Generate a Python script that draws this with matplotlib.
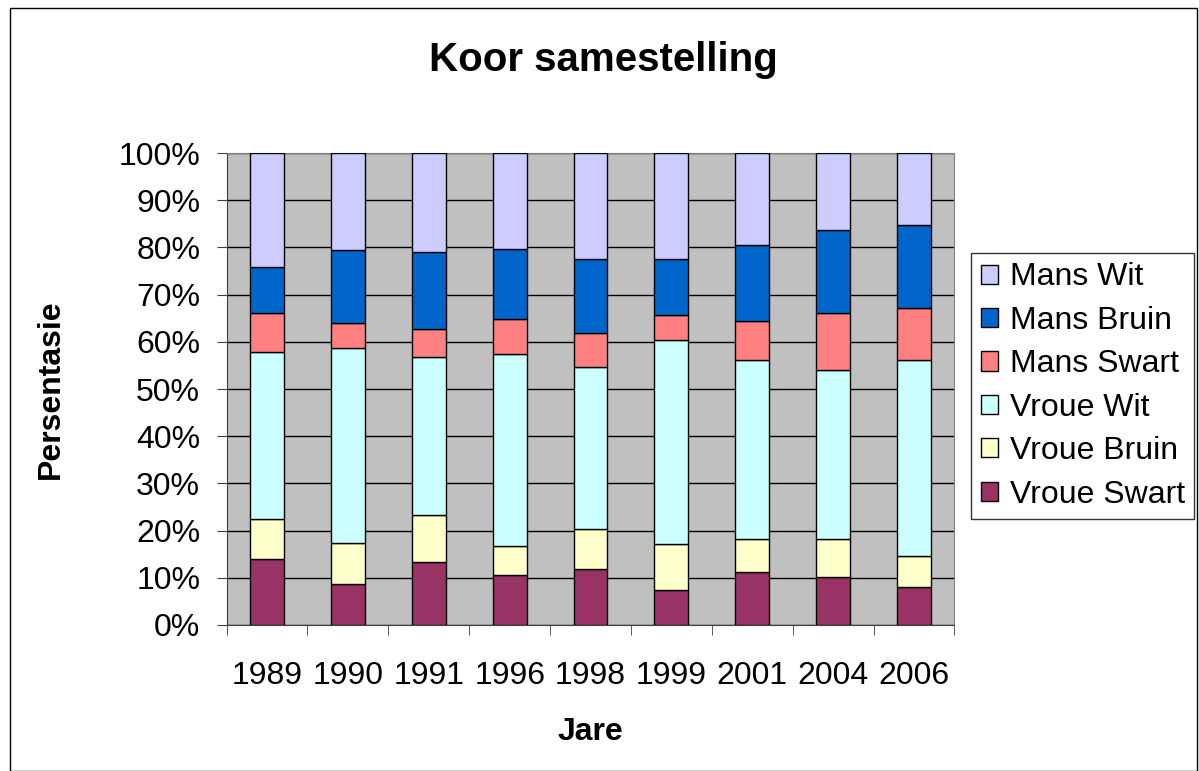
import numpy as np
import matplotlib.pyplot as plt
from matplotlib.patches import Rectangle
from matplotlib.ticker import FixedLocator, PercentFormatter

plt.rcParams['font.family'] = ['Liberation Sans', 'DejaVu Sans']

# Data (percentages)
years = ["1989", "1990", "1991", "1996", "1998", "1999", "2001", "2004", "2006"]
vroue_swart = [14.0, 8.7, 13.4, 10.6, 11.9, 7.4, 11.2, 10.2, 8.0]
vroue_bruin = [8.4, 8.7, 10.0, 6.2, 8.4, 9.7, 7.1, 8.1, 6.7]
vroue_wit = [35.4, 41.2, 33.4, 40.6, 34.3, 43.2, 37.8, 35.7, 41.4]
mans_swart = [8.3, 5.4, 5.9, 7.5, 7.2, 5.3, 8.3, 12.2, 11.0]
mans_bruin = [9.8, 15.4, 16.3, 14.7, 15.7, 11.9, 16.2, 17.5, 17.6]
mans_wit = [24.1, 20.6, 21.0, 20.4, 22.5, 22.5, 19.4, 16.3, 15.3]

series = [
    ("Vroue Swart", vroue_swart, "#993366"),
    ("Vroue Bruin", vroue_bruin, "#FFFFCC"),
    ("Vroue Wit", vroue_wit, "#CCFFFF"),
    ("Mans Swart", mans_swart, "#FF8080"),
    ("Mans Bruin", mans_bruin, "#0066CC"),
    ("Mans Wit", mans_wit, "#CCCCFF"),
]

fig = plt.figure(figsize=(11.99, 7.71), dpi=100)
ax = fig.add_axes([0.189, 0.1894, 0.607, 0.612])
ax.set_facecolor("#C0C0C0")

x = np.arange(len(years))
bottom = np.zeros(len(years))
handles = []
for name, vals, col in series:
    b = ax.bar(x, vals, width=0.42, bottom=bottom, color=col,
               edgecolor="black", linewidth=1.0, label=name, zorder=3)
    handles.append(b)
    bottom += np.array(vals)

ax.set_xlim(-0.5, len(years) - 0.5)
ax.set_ylim(0, 100)
ax.yaxis.set_major_locator(FixedLocator(np.arange(0, 101, 10)))
ax.yaxis.set_major_formatter(PercentFormatter(decimals=0))
ax.grid(axis="y", color="black", linewidth=1.0, zorder=0)
ax.set_axisbelow(True)

ax.set_xticks(x)
ax.set_xticklabels(years)
ax.set_xticks(np.arange(-0.5, len(years)), minor=True)
ax.tick_params(axis="x", which="major", length=0, pad=26, labelsize=23)
ax.tick_params(axis="x", which="minor", length=7, color="#404040")
ax.tick_params(axis="y", length=7, labelsize=23, pad=12, color="#404040")

for side in ["top", "right"]:
    ax.spines[side].set_color("#808080")
ax.spines["left"].set_color("#404040")
ax.spines["bottom"].set_color("#404040")

ax.set_xlabel("Jare", fontsize=23, fontweight="bold", labelpad=19)
ax.set_ylabel("Persentasie", fontsize=23, fontweight="bold", labelpad=38)
fig.text(0.503, 0.922, "Koor samestelling", ha="center", va="center",
         fontsize=29, fontweight="bold")

leg = fig.legend(handles[::-1], [s[0] for s in series][::-1],
                 loc="upper left", bbox_to_anchor=(0.81, 0.672),
                 fontsize=23, frameon=True, fancybox=False, edgecolor="black",
                 handlelength=0.55, handleheight=0.55, handletextpad=0.35,
                 labelspacing=0.42, borderpad=0.3, borderaxespad=0)
leg.get_frame().set_linewidth(1.0)

fig.patches.append(Rectangle((0.008, 0.0), 0.99, 0.99, transform=fig.transFigure,
                             fill=False, edgecolor="black", linewidth=1.0))

fig.savefig("out.png", dpi=100)
